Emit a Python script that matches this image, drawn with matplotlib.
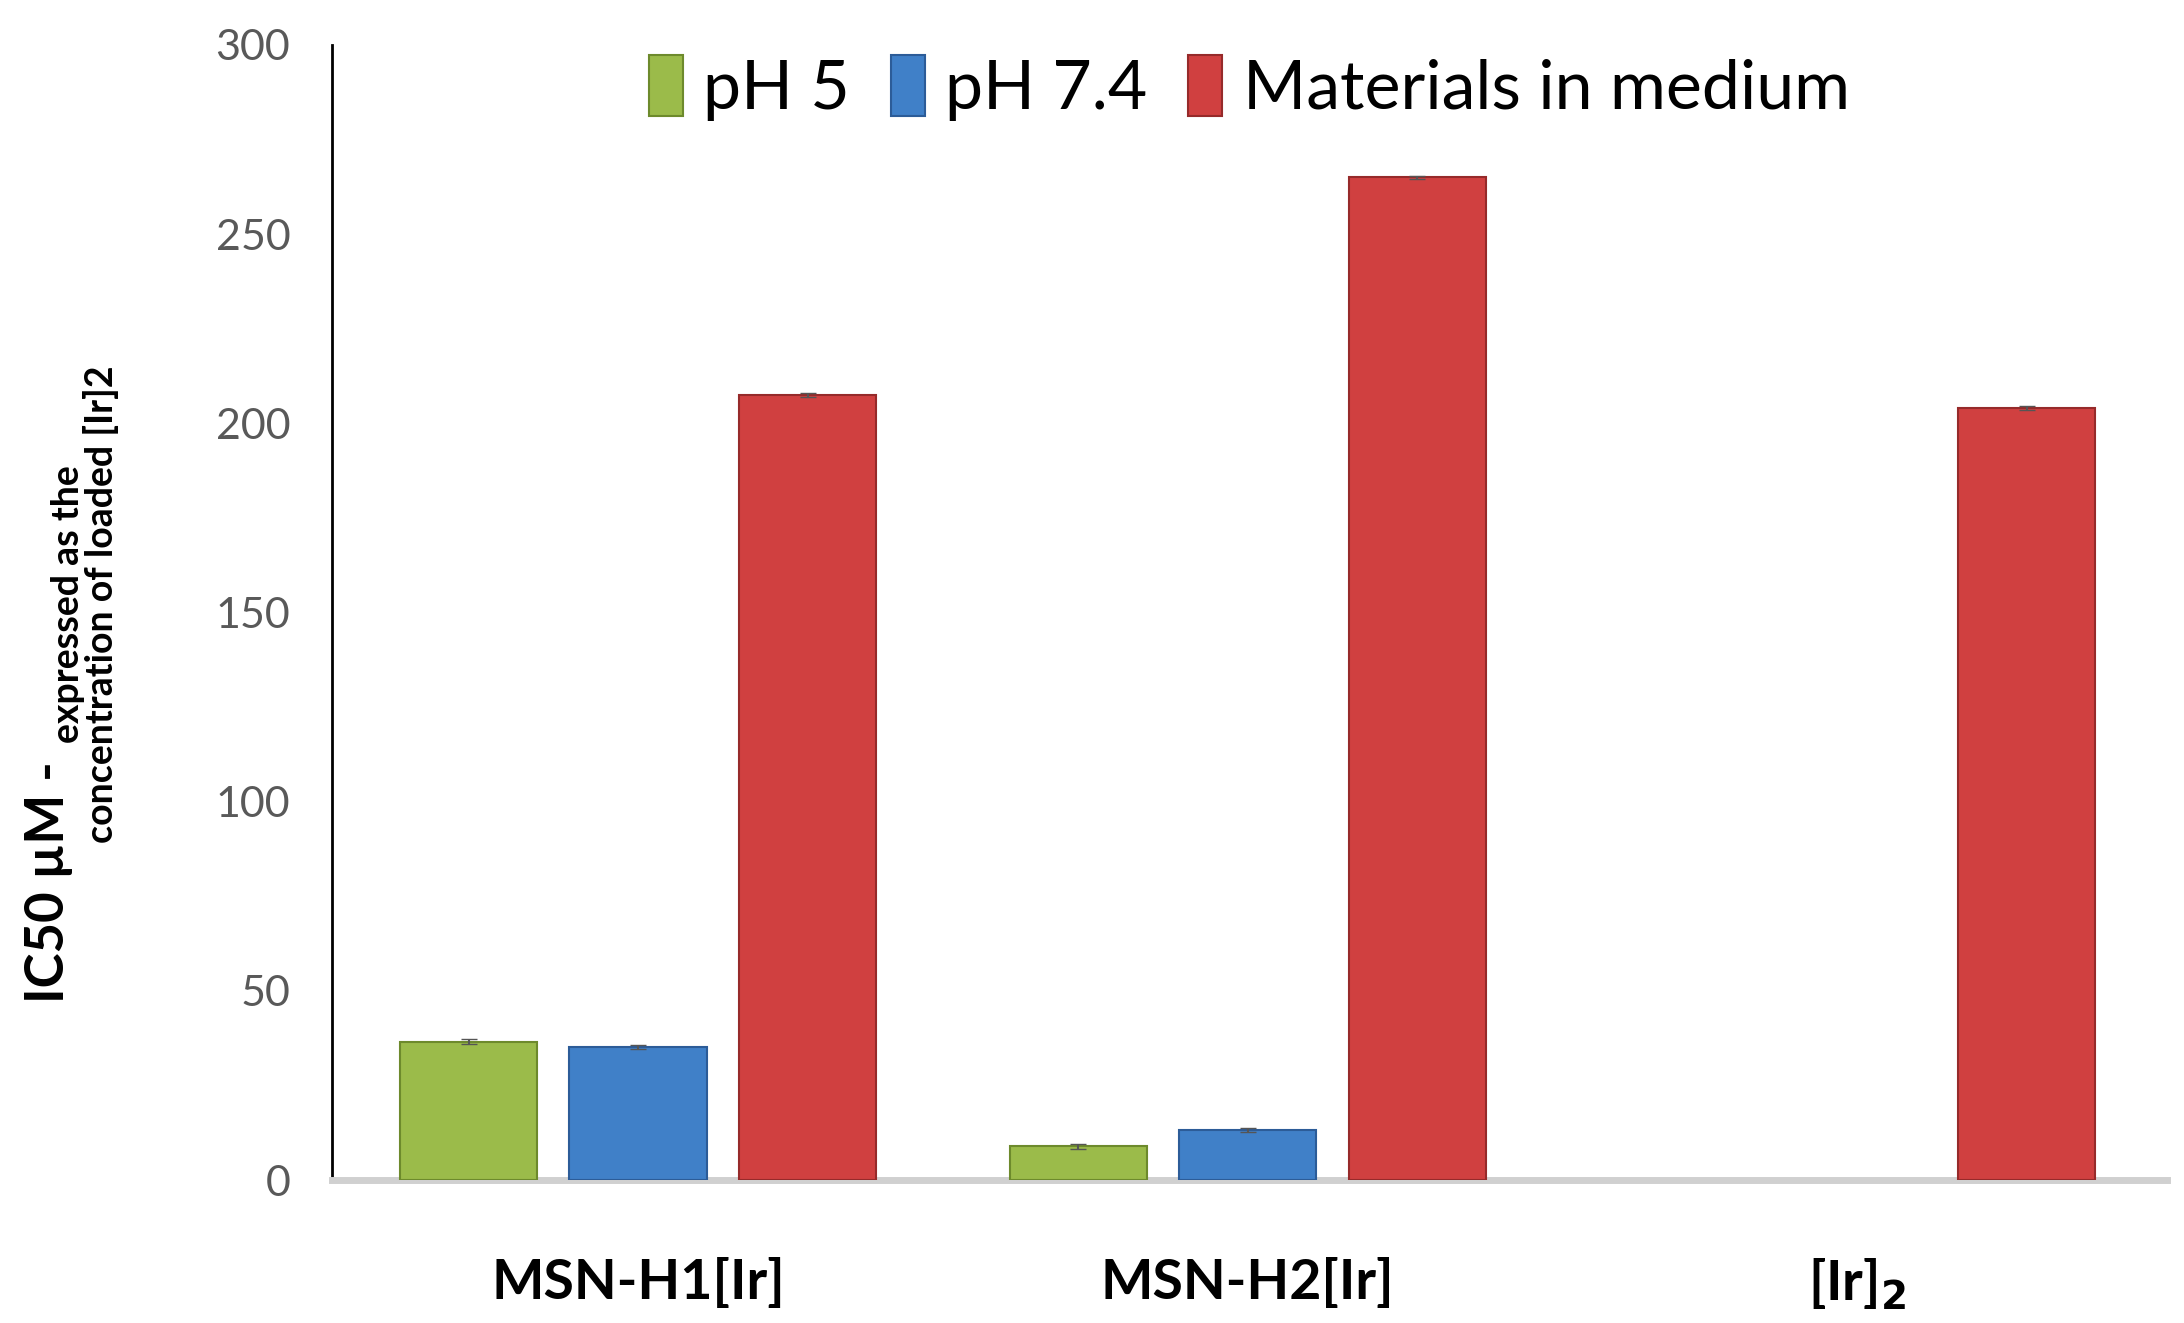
import numpy as np
import matplotlib.pyplot as plt

plt.rcParams['font.family'] = ['Lato', 'DejaVu Sans']

groups = ['MSN-H1[Ir]', 'MSN-H2[Ir]', r'[Ir]$_\mathbf{2}$']
series = ['pH 5', 'pH 7.4', 'Materials in medium']
ph5 = [36.6, 8.9, np.nan]
ph74 = [35.1, 13.3, np.nan]
medium = [207.5, 265.0, 204.0]
errs = [0.6, 0.5, 0.5]

colors = ['#9bbb4a', '#4080c8', '#d04040']
edges = ['#6d8a2c', '#2c5c98', '#962a2a']

fig = plt.figure(figsize=(21.84, 13.23), dpi=100)
ax = fig.add_axes([0.152, 0.108, 0.840, 0.858])

x = np.arange(len(groups))
w = 0.225
off = 0.278
for i, vals in enumerate([ph5, ph74, medium]):
    v = np.array(vals, dtype=float)
    ax.bar(x + (i - 1) * off, v, w, color=colors[i], edgecolor=edges[i],
           linewidth=1.5, label=series[i], zorder=3)
    ax.errorbar(x + (i - 1) * off, v, yerr=errs[i], fmt='none',
                ecolor='#555555', capsize=6, elinewidth=1.5, zorder=4)

ax.set_xlim(-0.502, 2.507)
ax.set_ylim(0, 300)
ax.set_yticks(range(0, 301, 50))
ax.tick_params(axis='y', length=0, labelsize=31, labelcolor='#595959', pad=30)
ax.set_xticks(x)
ax.set_xticklabels(groups, fontsize=40, fontweight='bold')
ax.tick_params(axis='x', length=0, pad=55)
for s in ['top', 'right']:
    ax.spines[s].set_visible(False)
ax.spines['left'].set_linewidth(2)
ax.spines['bottom'].set_color('#d0d0d0')
ax.spines['bottom'].set_linewidth(5)

fig.text(0.022, 0.333, 'IC50 µM -', rotation=90, ha='center', va='center',
         fontsize=38, fontweight='bold')
fig.text(0.039, 0.543, 'expressed as the\nconcentration of loaded [Ir]2',
         rotation=90, ha='center', va='center', multialignment='center',
         fontsize=27, fontweight='bold', linespacing=0.95)

ax.legend(loc='upper center', bbox_to_anchor=(0.5, 1.045), ncol=3, frameon=False,
          fontsize=49, handlelength=0.5, handleheight=1.0, handletextpad=0.3,
          columnspacing=0.6)

fig.savefig('out.png', dpi=100)
